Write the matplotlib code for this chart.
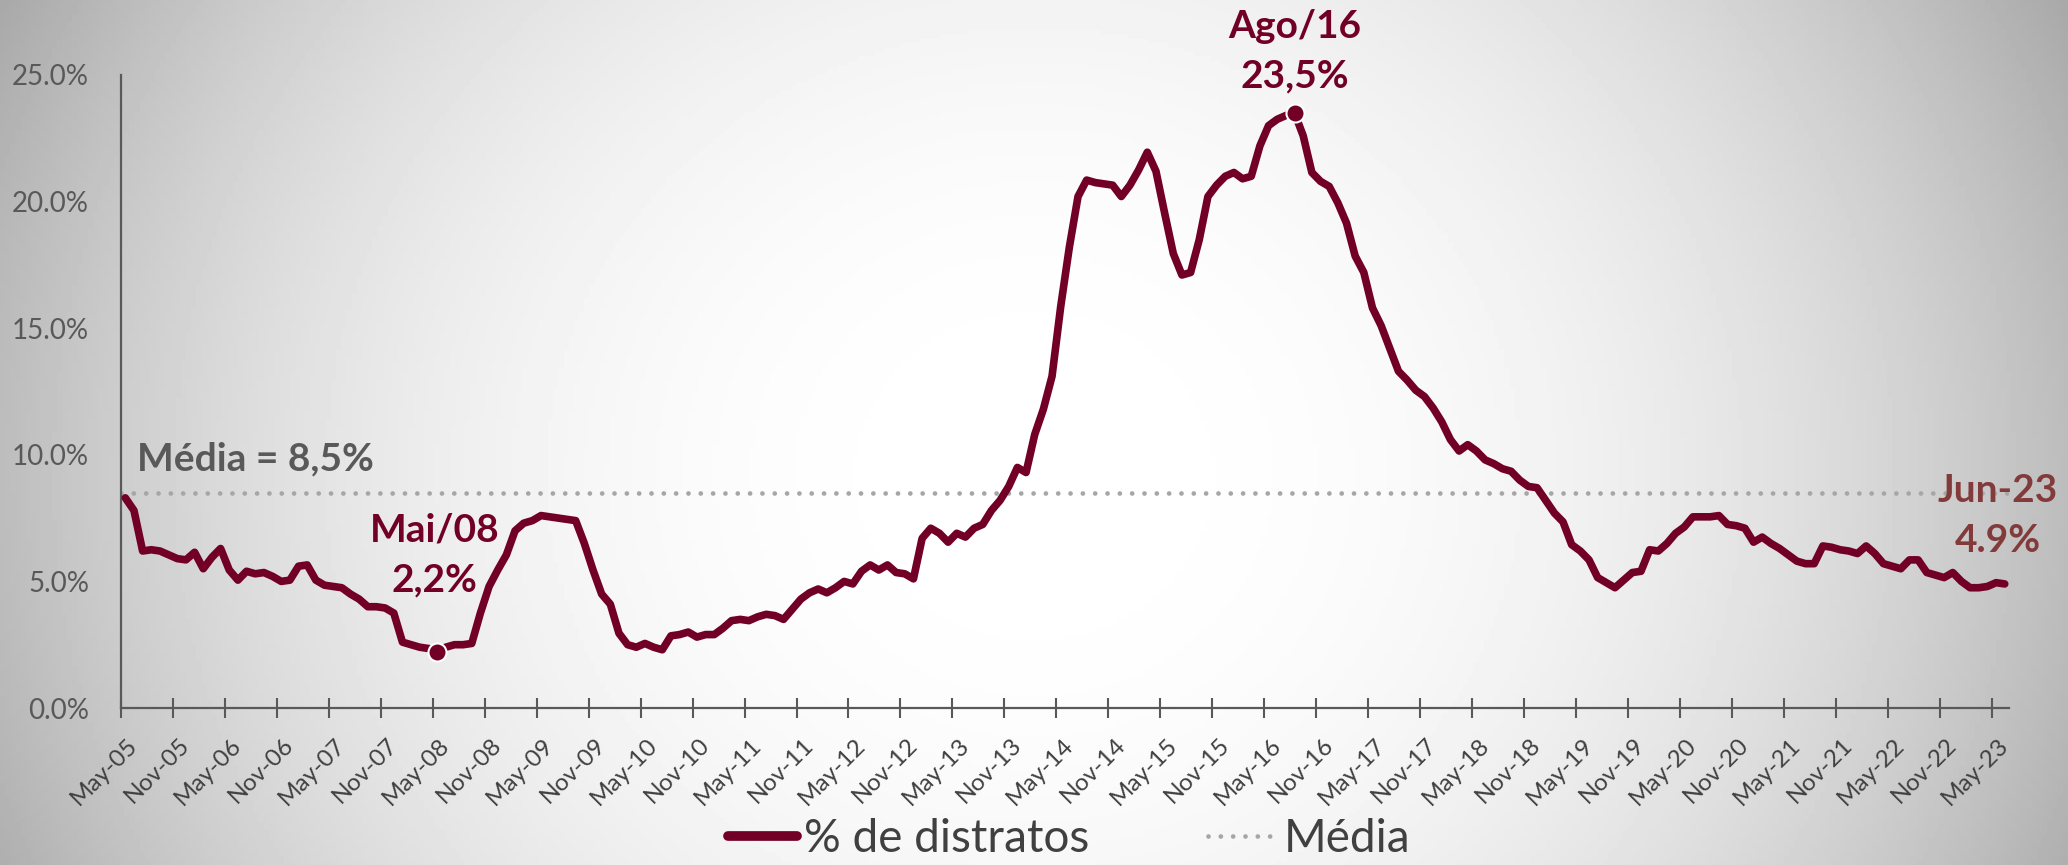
import numpy as np
import matplotlib.pyplot as plt
import matplotlib.transforms as mtransforms
from matplotlib.lines import Line2D

# % de distratos, mensal, de mai/2005 a jun/2023
distratos = [
    8.3, 7.8, 6.2, 6.25, 6.2, 6.05, 5.9, 5.85, 6.15, 5.5, 5.95, 6.3,          # 2005-06
    5.45, 5.05, 5.4, 5.3, 5.35, 5.2, 5.0, 5.05, 5.6, 5.65, 5.05, 4.85,       # 2006-07
    4.8, 4.75, 4.5, 4.3, 4.0, 4.0, 3.95, 3.75, 2.6, 2.5, 2.4, 2.35,          # 2007-08
    2.2, 2.4, 2.5, 2.5, 2.55, 3.75, 4.8, 5.45, 6.05, 7.0, 7.3, 7.4,          # 2008-09
    7.6, 7.55, 7.5, 7.45, 7.4, 6.5, 5.45, 4.5, 4.1, 2.95, 2.5, 2.4,          # 2009-10
    2.55, 2.4, 2.3, 2.85, 2.9, 3.0, 2.8, 2.9, 2.9, 3.15, 3.45, 3.5,          # 2010-11
    3.45, 3.6, 3.7, 3.65, 3.5, 3.9, 4.3, 4.55, 4.7, 4.55, 4.75, 5.0,         # 2011-12
    4.9, 5.4, 5.65, 5.45, 5.65, 5.35, 5.3, 5.1, 6.7, 7.1, 6.9, 6.55,         # 2012-13
    6.9, 6.75, 7.1, 7.25, 7.8, 8.2, 8.75, 9.5, 9.3, 10.8, 11.8, 13.1,        # 2013-14
    15.85, 18.2, 20.2, 20.85, 20.75, 20.7, 20.65, 20.2, 20.65, 21.25, 21.95, 21.2,  # 2014-15
    19.55, 17.95, 17.1, 17.2, 18.5, 20.2, 20.65, 21.0, 21.15, 20.9, 21.0, 22.2,     # 2015-16
    23.0, 23.25, 23.4, 23.5, 22.6, 21.15, 20.8, 20.6, 19.95, 19.15, 17.85, 17.2,    # 2016-17
    15.8, 15.1, 14.2, 13.3, 12.95, 12.55, 12.3, 11.85, 11.3, 10.6, 10.15, 10.4,     # 2017-18
    10.15, 9.8, 9.65, 9.45, 9.35, 9.0, 8.75, 8.7, 8.2, 7.7, 7.35, 6.45,      # 2018-19
    6.2, 5.85, 5.15, 4.95, 4.75, 5.05, 5.35, 5.4, 6.25, 6.2, 6.5, 6.9,       # 2019-20
    7.15, 7.55, 7.55, 7.55, 7.6, 7.25, 7.2, 7.1, 6.55, 6.75, 6.5, 6.3,       # 2020-21
    6.05, 5.8, 5.7, 5.7, 6.4, 6.35, 6.25, 6.2, 6.1, 6.4, 6.1, 5.7,           # 2021-22
    5.6, 5.5, 5.85, 5.85, 5.35, 5.25, 5.15, 5.35, 5.0, 4.75, 4.75, 4.8,      # 2022-23
    4.95, 4.9,                                                                 # mai-jun/23
]
media = 8.5

tick_labels = ['May-05', 'Nov-05', 'May-06', 'Nov-06', 'May-07', 'Nov-07',
               'May-08', 'Nov-08', 'May-09', 'Nov-09', 'May-10', 'Nov-10',
               'May-11', 'Nov-11', 'May-12', 'Nov-12', 'May-13', 'Nov-13',
               'May-14', 'Nov-14', 'May-15', 'Nov-15', 'May-16', 'Nov-16',
               'May-17', 'Nov-17', 'May-18', 'Nov-18', 'May-19', 'Nov-19',
               'May-20', 'Nov-20', 'May-21', 'Nov-21', 'May-22', 'Nov-22',
               'May-23']

# pontos destacados (indice do mes, texto)
idx_min, txt_min = 36, 'Mai/08\n2,2%'
idx_max, txt_max = 135, 'Ago/16\n23,5%'
txt_last = 'Jun-23\n4.9%'

VINHO = '#720026'
CINZA = '#595959'
PONTILHADO = '#a6a6a6'

plt.rcParams['font.family'] = ['Lato', 'DejaVu Sans']

fig = plt.figure(figsize=(20.68, 8.65), dpi=100)

# fundo com degrade radial (branco no centro, cinza nas bordas)
bg = fig.add_axes([0, 0, 1, 1], zorder=-10)
gx, gy = np.meshgrid(np.linspace(0, 1, 400), np.linspace(0, 1, 200))
r = np.sqrt(((gx - 0.5) / 0.5) ** 2 + ((gy - 0.55) / 1.1) ** 2)
shade = 1 - 0.26 * np.clip(r, 0, 1.3) ** 2.4
bg.imshow(shade, cmap='gray', vmin=0, vmax=1, aspect='auto', extent=[0, 1, 0, 1])
bg.axis('off')

ax = fig.add_axes([0.0585, 0.1815, 0.913, 0.7318])
ax.patch.set_alpha(0)

x = np.arange(len(distratos))
ax.plot(x, distratos, color=VINHO, lw=5.5, solid_joinstyle='round',
        solid_capstyle='round', zorder=3)
ax.axhline(media, color=PONTILHADO, lw=3.4, linestyle=(0, (0.01, 2.6)),
           dash_capstyle='round', zorder=2)

ax.plot([idx_min, idx_max], [distratos[idx_min], distratos[idx_max]], 'o',
        ms=13, color=VINHO, mec='white', mew=1.5, zorder=4)

ax.set_xlim(-0.5, len(distratos) - 0.5)
ax.set_ylim(0, 25)

ax.set_yticks(np.arange(0, 26, 5))
ax.set_yticklabels([f'{v:.1f}%' for v in np.arange(0, 26, 5)])
ax.tick_params(axis='y', length=0, pad=23, labelsize=20, labelcolor=CINZA)

ax.set_xticks(np.arange(len(tick_labels)) * 6 - 0.5)
ax.set_xticklabels(tick_labels, rotation=45, ha='right', va='top',
                   rotation_mode='anchor')
ax.tick_params(axis='x', direction='inout', length=14, width=1.5, color=CINZA,
               labelsize=17.5, labelcolor='#404040', pad=12)
shift = mtransforms.ScaledTranslation(0.06, 0, fig.dpi_scale_trans)
for lbl in ax.get_xticklabels():
    lbl.set_transform(lbl.get_transform() + shift)

for s in ['top', 'right']:
    ax.spines[s].set_visible(False)
for s in ['left', 'bottom']:
    ax.spines[s].set_color(CINZA)
    ax.spines[s].set_linewidth(1.6)

ax.text(1.4, 9.85, 'Média = 8,5%', fontsize=28, fontweight='bold', color=CINZA,
        ha='left', va='center')
ax.text(35.7, 6.05, txt_min, fontsize=28, fontweight='bold', color=VINHO,
        ha='center', va='center', linespacing=1.5)
ax.text(135.0, 25.95, txt_max, fontsize=28, fontweight='bold', color=VINHO,
        ha='center', va='center', linespacing=1.5)
ax.text(216.2, 7.6, txt_last, fontsize=28, fontweight='bold', color='#833a3a',
        ha='center', va='center', linespacing=1.5)

handles = [Line2D([], [], color=VINHO, lw=7, solid_capstyle='round'),
           Line2D([], [], color=PONTILHADO, lw=3.4, linestyle=(0, (0.01, 2.6)),
                  dash_capstyle='round')]
fig.legend(handles, ['% de distratos', 'Média'], loc='center',
           bbox_to_anchor=(0.517, 0.03), ncol=2, frameon=False, fontsize=33,
           handlelength=1.5, handletextpad=0.15, columnspacing=2.6,
           labelcolor='#404040', borderpad=0)

fig.savefig('out.png', dpi=100)
